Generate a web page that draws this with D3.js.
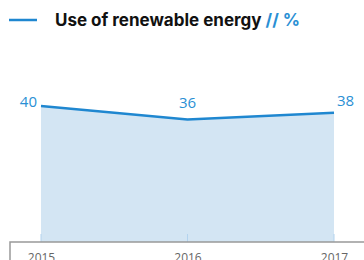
<!DOCTYPE html>
<html>
<head>
<meta charset="utf-8">
<script src="https://cdn.jsdelivr.net/npm/d3@7"></script>
<style>
  body { margin: 0; background: #fff; }
</style>
</head>
<body>
<script>
var years = ["2015", "2016", "2017"];
var values = [40, 36, 38];
var title = "Use of renewable energy";
var unit = " // %";

var width = 364, height = 260;
var margin = {left: 10, right: 0, top: 0, bottom: 18};
var baseY = 242;

var svg = d3.select("body").append("svg")
    .attr("width", width)
    .attr("height", height);

// x positions of the three years
var x = d3.scalePoint()
    .domain(years)
    .range([41, 334]);

// zero sits on the axis line
var y = d3.scaleLinear()
    .domain([0, 40])
    .range([baseY, 106]);

var data = years.map(function(d, i) { return {year: d, value: values[i]}; });

// Area under the line
svg.append("path")
    .datum(data)
    .attr("fill", "#d3e5f3")
    .attr("d", d3.area()
        .x(function(d) { return x(d.year); })
        .y0(baseY)
        .y1(function(d) { return y(d.value); }));

// small tick marks inside the area
svg.selectAll(".tick-in")
    .data(years)
    .enter().append("line")
    .attr("x1", function(d) { return x(d); })
    .attr("x2", function(d) { return x(d); })
    .attr("y1", baseY - 8)
    .attr("y2", baseY)
    .attr("stroke", "#b3d3ee")
    .attr("stroke-width", 1);

// the line
svg.append("path")
    .datum(data)
    .attr("fill", "none")
    .attr("stroke", "#1f87d0")
    .attr("stroke-width", 2.5)
    .attr("d", d3.line()
        .x(function(d) { return x(d.year); })
        .y(function(d) { return y(d.value); }));

// value labels
var labelPos = [
  {dx: -4, dy: 1, anchor: "end"},
  {dx: 0, dy: -12, anchor: "middle"},
  {dx: 3, dy: -7, anchor: "start"}
];
svg.selectAll(".val")
    .data(data)
    .enter().append("text")
    .attr("class", "val")
    .attr("x", function(d, i) { return x(d.year) + labelPos[i].dx; })
    .attr("y", function(d, i) { return y(d.value) + labelPos[i].dy; })
    .attr("text-anchor", function(d, i) { return labelPos[i].anchor; })
    .style("font-family", "'Open Sans', sans-serif")
    .style("font-size", "15px")
    .style("fill", "#2a8fd4")
    .text(function(d) { return d.value; });

// x axis
var xAxis = svg.append("g")
    .attr("transform", "translate(0," + baseY + ")")
    .call(d3.axisBottom(x).tickSize(0).tickPadding(11));
xAxis.select(".domain").remove();
xAxis.selectAll("text")
    .style("font-family", "'Open Sans', sans-serif")
    .style("font-size", "12px")
    .style("fill", "#666");

svg.append("path")
    .attr("d", "M" + margin.left + "," + height + "V" + baseY + "H" + width)
    .attr("fill", "none")
    .attr("stroke", "#999")
    .attr("stroke-width", 1.5);

// legend / title
svg.append("line")
    .attr("x1", 9).attr("x2", 37)
    .attr("y1", 20).attr("y2", 20)
    .attr("stroke", "#1f87d0")
    .attr("stroke-width", 2.5);

var t = svg.append("text")
    .attr("x", 55)
    .attr("y", 26)
    .style("font-family", "Inter, sans-serif")
    .style("font-weight", "bold")
    .style("font-size", "17px")
    .style("fill", "#111");
t.append("tspan").text(title);
t.append("tspan").style("fill", "#2a8fd4").text(unit);
</script>
</body>
</html>
